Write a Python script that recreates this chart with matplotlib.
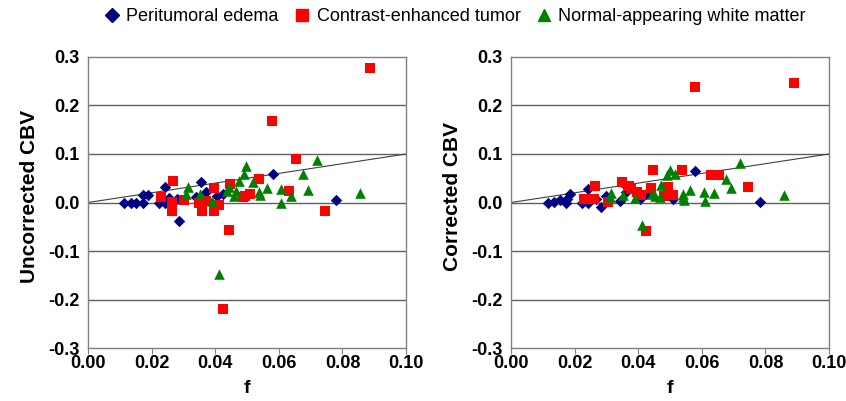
import numpy as np
import matplotlib
matplotlib.use("Agg")
import matplotlib.pyplot as plt
from matplotlib.lines import Line2D

plt.rcParams["font.family"] = ["Liberation Sans", "DejaVu Sans"]

# ── Uncorrected CBV (left panel) ───────────────────────────────────────────
unc_edema_f = [0.0113, 0.0135, 0.0152, 0.0173, 0.0173, 0.0188, 0.0224, 0.0243, 0.0241,
               0.0256, 0.0285, 0.0280, 0.0340, 0.0356, 0.0371, 0.0406, 0.0425, 0.0582, 0.0780]
unc_edema_v = [0.000, 0.000, 0.000, 0.000, 0.015, 0.015, 0.000, 0.031, 0.000,
               0.010, -0.038, 0.008, 0.012, 0.042, 0.021, 0.013, 0.018, 0.059, 0.005]

unc_tumor_f = [0.0886, 0.0579, 0.0653, 0.0539, 0.0448, 0.0395, 0.0266, 0.0231, 0.0264,
               0.0264, 0.0302, 0.0350, 0.0358, 0.0372, 0.0397, 0.0411, 0.0442, 0.0495,
               0.0508, 0.0486, 0.0631, 0.0746, 0.0423]
unc_tumor_v = [0.277, 0.169, 0.090, 0.048, 0.039, 0.030, 0.045, 0.012, 0.001,
               -0.018, 0.005, -0.002, -0.017, 0.003, -0.017, -0.005, -0.056, 0.014,
               0.018, 0.012, 0.024, -0.017, -0.220]

unc_wm_f = [0.0720, 0.0856, 0.0675, 0.0693, 0.0638, 0.0608, 0.0608, 0.0564, 0.0542,
            0.0538, 0.0498, 0.0490, 0.0518, 0.0474, 0.0465, 0.0458, 0.0444, 0.0437,
            0.0390, 0.0351, 0.0313, 0.0307, 0.0411]
unc_wm_v = [0.088, 0.020, 0.058, 0.025, 0.013, -0.002, 0.028, 0.030, 0.016,
            0.021, 0.076, 0.059, 0.043, 0.044, 0.023, 0.014, 0.032, 0.023,
            0.003, 0.018, 0.032, 0.017, -0.147]

# ── Corrected CBV (right panel) ────────────────────────────────────────────
cor_edema_f = [0.0115, 0.0136, 0.0154, 0.0172, 0.0175, 0.0187, 0.0224, 0.0241, 0.0243,
               0.0266, 0.0283, 0.0300, 0.0342, 0.0355, 0.0363, 0.0405, 0.0426, 0.0510,
               0.0580, 0.0782]
cor_edema_v = [0.000, 0.002, 0.006, 0.000, 0.008, 0.017, 0.000, 0.027, 0.000,
               0.008, -0.009, 0.014, 0.003, 0.039, 0.022, 0.008, 0.018, 0.008,
               0.064, 0.001]

cor_tumor_f = [0.0889, 0.0579, 0.0447, 0.0537, 0.0630, 0.0653, 0.0746, 0.0348, 0.0371,
               0.0376, 0.0395, 0.0410, 0.0440, 0.0494, 0.0480, 0.0508, 0.0263, 0.0229,
               0.0262, 0.0304, 0.0424]
cor_tumor_v = [0.247, 0.238, 0.067, 0.066, 0.056, 0.056, 0.032, 0.043, 0.033,
               0.027, 0.022, 0.016, 0.030, 0.032, 0.013, 0.015, 0.034, 0.007,
               0.007, 0.001, -0.058]

cor_wm_f = [0.0721, 0.0859, 0.0675, 0.0693, 0.0639, 0.0610, 0.0606, 0.0564, 0.0541,
            0.0545, 0.0540, 0.0499, 0.0491, 0.0517, 0.0471, 0.0468, 0.0452, 0.0442,
            0.0390, 0.0353, 0.0314, 0.0311, 0.0413]
cor_wm_v = [0.081, 0.015, 0.049, 0.030, 0.020, 0.003, 0.022, 0.025, 0.017,
            0.006, 0.012, 0.066, 0.056, 0.058, 0.037, 0.012, 0.013, 0.017,
            0.010, 0.015, 0.020, 0.012, -0.046]

labels = ["Peritumoral edema", "Contrast-enhanced tumor", "Normal-appearing white matter"]
colors = ["#000080", "#ff0000", "#008000"]
markers = ["D", "s", "^"]
sizes = [34, 62, 58]

panels = [
    ("Uncorrected CBV", [(unc_edema_f, unc_edema_v), (unc_tumor_f, unc_tumor_v), (unc_wm_f, unc_wm_v)]),
    ("Corrected CBV", [(cor_edema_f, cor_edema_v), (cor_tumor_f, cor_tumor_v), (cor_wm_f, cor_wm_v)]),
]

fig = plt.figure(figsize=(8.46, 4.01), dpi=100)
lefts = [0.104, 0.604]

xt = np.arange(0, 0.101, 0.02)
yt = np.arange(-0.3, 0.301, 0.1)

for left, (ylabel, series) in zip(lefts, panels):
    ax = fig.add_axes([left, 0.132, 0.376, 0.726])
    for y in yt[1:-1]:
        ax.axhline(y, color="#606060", lw=1, zorder=1)
    ax.plot([0, 0.1], [0, 0.1], color="#404040", lw=0.8, zorder=2)
    for (fx, fy), c, m, s in zip(series, colors, markers, sizes):
        ax.scatter(fx, fy, marker=m, s=s, color=c, linewidths=0, zorder=3)
    ax.set_xlim(0, 0.1)
    ax.set_ylim(-0.3, 0.3)
    ax.set_xticks(xt)
    ax.set_xticklabels([f"{v:.2f}" for v in xt])
    ax.set_yticks(yt)
    ax.set_yticklabels([f"{v:.1f}" if abs(v) > 1e-9 else "0.0" for v in yt])
    for sp in ax.spines.values():
        sp.set_color("#808080")
        sp.set_linewidth(1)
    ax.tick_params(axis="x", direction="out", length=4, color="#808080", pad=1)
    ax.tick_params(axis="y", length=0, pad=6)
    for lab in ax.get_xticklabels() + ax.get_yticklabels():
        lab.set_fontweight("bold")
        lab.set_fontsize(13)
    ax.set_xlabel("f", fontsize=14, fontweight="bold", labelpad=6)
    ax.set_ylabel(ylabel, fontsize=15, fontweight="bold", labelpad=7, y=0.52)

handles = [Line2D([], [], ls="none", marker=m, color=c, markersize=ms)
           for m, c, ms in zip(markers, colors, [7.5, 9, 9])]
fig.legend(handles, labels, loc="center", bbox_to_anchor=(0.537, 0.958), ncol=3,
           frameon=False, fontsize=13, handletextpad=0.3, columnspacing=0.8,
           handlelength=1.0)

fig.savefig("out.png", dpi=100)
